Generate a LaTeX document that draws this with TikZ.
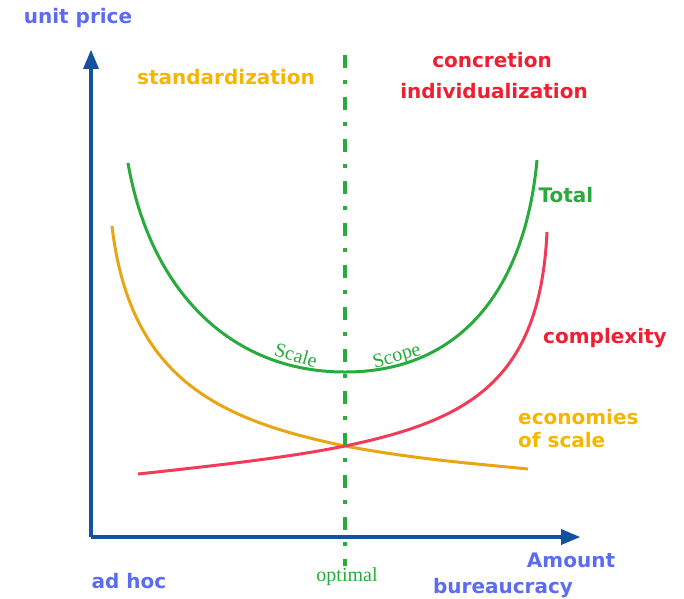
\documentclass[tikz,border=0pt]{standalone}
\usepackage{fontspec}
\setmainfont{DejaVu Sans}
\newfontfamily\serifcond{Liberation Serif}
\usetikzlibrary{arrows}

\definecolor{axisblue}{RGB}{20,82,160}
\definecolor{labelblue}{RGB}{92,108,240}
\definecolor{stdorange}{RGB}{245,182,0}
\definecolor{curveorange}{RGB}{232,165,20}
\definecolor{txtred}{RGB}{240,30,50}
\definecolor{curvered}{RGB}{240,60,90}
\definecolor{optgreen}{RGB}{40,170,60}

\begin{document}
\begin{tikzpicture}[x=1pt,y=-1pt,
  lbl/.style={font=\fontsize{20}{23}\selectfont\bfseries},
  serlbl/.style={font=\fontsize{20}{22}\selectfont\serifcond,optgreen,inner sep=1pt},
  curve/.style={line width=3pt}]
  \useasboundingbox (0,0) rectangle (684,598);

  \coordinate (O) at (91,537);
  \coordinate (ytip) at (91,50);
  \coordinate (xtip) at (580,537);
  \coordinate (Otop) at (345,55);
  \coordinate (Obot) at (345,566);

  \coordinate (T1) at (128,163);
  \coordinate (Tmin) at (345,372);
  \coordinate (T2) at (537,160);
  \coordinate (E1) at (112,226);
  \coordinate (X) at (345,446);
  \coordinate (E2) at (528,469);
  \coordinate (C1) at (138,474);
  \coordinate (C2) at (547,232);

  \draw[line width=3.5pt,axisblue,-triangle 45] (O) -- (ytip);
  \draw[line width=3.5pt,axisblue,-triangle 45] (O) -- (xtip);

  \draw[curve,curveorange] (E1) .. controls (130,380) and (220,420) .. (X)
        .. controls (420,460) and (480,464) .. (E2);
  \draw[curve,curvered] (C1) .. controls (250,462) and (300,455) .. (X)
        .. controls (470,420) and (540,380) .. (C2);
  \draw[curve,optgreen] (T1) .. controls (150,290) and (230,372) .. (Tmin)
        .. controls (460,372) and (525,290) .. (T2);

  \draw[line width=4pt,optgreen,dash pattern=on 13pt off 12pt on 4pt off 13pt] (Otop) -- (Obot);

  \node[lbl,labelblue] (unitprice) at (78,18) {unit price};
  \node[lbl,stdorange] (std) at (226,77) {standardization};
  \node[lbl,txtred] (concr) at (492,60) {concretion};
  \node[lbl,txtred] (indiv) at (494,91) {individualization};
  \node[lbl,optgreen] (total) at (566,195) {Total};
  \node[lbl,txtred] (compl) at (605,338) {complexity};
  \node[lbl,stdorange,align=left,anchor=west,inner sep=0pt] (econ) at (518,429) {economies\\of scale};
  \node[lbl,labelblue] (amount) at (571,560) {Amount};
  \node[lbl,labelblue] (bureau) at (503,588) {bureaucracy};
  \node[lbl,labelblue] (adhoc) at (129,581) {ad hoc};
  \node[serlbl] (optimal) at (347,577) {optimal};
  \node[serlbl,rotate=-16] (scale) at (296,355) {Scale};
  \node[serlbl,rotate=16] (scope) at (397,357) {Scope};
\end{tikzpicture}
\end{document}
